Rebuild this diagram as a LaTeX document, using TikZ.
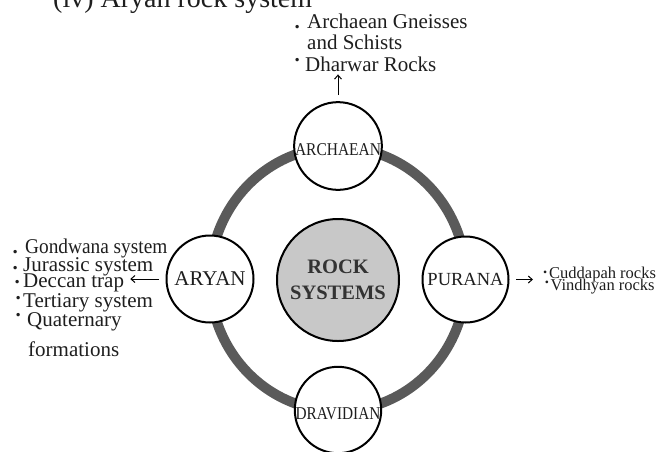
\documentclass[tikz,border=0pt]{standalone}
\usepackage{fontspec}
\setmainfont{Liberation Serif}
\usetikzlibrary{arrows.meta}
\definecolor{ringgray}{HTML}{5A5A5A}
\definecolor{coregray}{HTML}{C8C8C8}
\definecolor{inkgray}{HTML}{1E1E1E}
\newcommand\mybul[2]{\llap{\raisebox{#1pt}{\textbf{.}}\hspace{#2pt}}}
\newcommand\fs[1]{\fontsize{#1pt}{#1pt}\selectfont}
\begin{document}
\begin{tikzpicture}[x=1pt,y=-1pt,
  every node/.style={text=inkgray},
  rockcircle/.style={circle, draw=black, line width=2pt, fill=white, inner sep=0pt, minimum size=#1},
  listline/.style={anchor=base west, inner sep=0pt, font=\fs{21}},
  smallline/.style={anchor=base west, inner sep=0pt, font=\fs{16.5}},
  arr/.style={-{Straight Barb[length=4pt,width=7pt]}, line width=1pt, black}
]
\useasboundingbox (0,0) rectangle (662,451);
% ring
\draw[ringgray, line width=10pt] (338,279) ellipse [x radius=128, y radius=132];
% nodes
\node[rockcircle=122pt, fill=coregray, align=center, font=\fs{20.5}\bfseries, text=black!80] (core) at (338,280) {ROCK\\[6pt]SYSTEMS};
\node[rockcircle=84pt, font=\fs{18}, text height=18pt, text depth=0pt] (arch) at (338,146) {\scalebox{0.86}[1]{ARCHAEAN}};
\node[rockcircle=84pt, font=\fs{18}, text height=18pt, text depth=0pt] (drav) at (338,410) {\scalebox{0.85}[1]{DRAVIDIAN}};
\node[rockcircle=87pt, font=\fs{21}] (aryan) at (210,279) {ARYAN};
\node[rockcircle=86pt, font=\fs{18.5}] (purana) at (465.5,279.5) {PURANA};
% title
\node[anchor=base west, inner sep=0pt, font=\fs{28}] (title) at (53,7) {(iv) Aryan rock system};
% archaean list
\node[listline] (a1) at (307,28) {\mybul{0}{7.35}Archaean Gneisses};
\node[listline] (a2) at (307,49.5) {and Schists};
\node[listline, inner ysep=3pt] (a3) at (305,71) {\mybul{10}{5.35}Dharwar Rocks};
% aryan list
\node[listline] (g1) at (25,253) {\mybul{0}{7.35}\scalebox{0.92}[1]{Gondwana system}};
\node[listline] (g2) at (23,271.5) {\mybul{2.5}{5.35}Jurassic system};
\node[listline] (g3) at (23,287) {\mybul{4}{3.35}Deccan trap};
\node[listline] (g4) at (23,307) {\mybul{8}{2.35}Tertiary system};
\node[listline] (g5) at (27,326.5) {\mybul{10.5}{6.35}Quaternary};
\node[listline] (g6) at (28,356) {formations};
% purana list
\node[smallline] (p1) at (549,278) {\mybul{5}{1.95}Cuddapah rocks};
\node[smallline] (p2) at (550.5,290) {\mybul{7}{1.75}Vindhyan rocks};
% arrows
\draw[arr, shorten <=6pt] (arch.north) -- (arch.north |- a3.south);
\draw[arr, shorten <=6.5pt, shorten >=6pt] (aryan.west) -- (aryan.west -| g3.east);
\draw[arr, shorten <=6.5pt, shorten >=16pt] (purana.east) -- (purana.east -| p1.west);
\end{tikzpicture}
\end{document}
